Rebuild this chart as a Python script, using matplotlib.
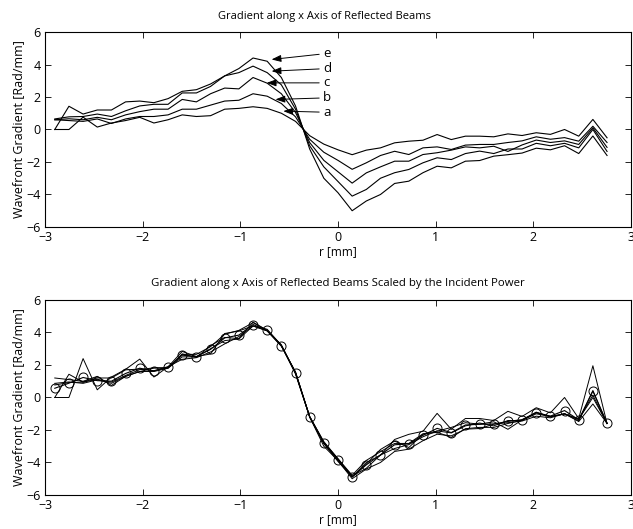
import matplotlib
matplotlib.use("Agg")
import matplotlib.pyplot as plt
import numpy as np

# radial positions [mm]
r = [-2.900, -2.755, -2.610, -2.465, -2.320, -2.175, -2.030, -1.885, -1.740, -1.595,
     -1.450, -1.305, -1.160, -1.015, -0.870, -0.725, -0.580, -0.435, -0.290, -0.145,
     0.000, 0.145, 0.290, 0.435, 0.580, 0.725, 0.870, 1.015, 1.160, 1.305,
     1.450, 1.595, 1.740, 1.885, 2.030, 2.175, 2.320, 2.465, 2.610, 2.755]

# wavefront gradient of the reflected beams [Rad/mm]
grad_a = [0.0, 0.0, 0.76, 0.15, 0.4, 0.55, 0.75, 0.4, 0.6, 0.9,
          0.8, 0.85, 1.25, 1.3, 1.4, 1.3, 1.0, 0.5, -0.38, -0.9,
          -1.25, -1.55, -1.27, -1.13, -0.82, -0.72, -0.66, -0.31, -0.62, -0.41,
          -0.41, -0.45, -0.27, -0.37, -0.2, -0.3, 0.0, -0.41, 0.62, -0.51]
grad_b = [0.6, 0.55, 0.5, 0.65, 0.37, 0.65, 0.8, 0.8, 0.9, 1.25,
          1.25, 1.5, 1.75, 1.8, 2.2, 2.05, 1.6, 0.78, -0.6, -1.4,
          -1.9, -2.45, -2.05, -1.6, -1.34, -1.54, -1.13, -1.07, -1.23, -0.96,
          -0.92, -0.92, -0.8, -0.7, -0.45, -0.6, -0.5, -0.72, 0.2, -0.8]
grad_c = [0.6, 0.66, 0.6, 0.75, 0.6, 0.9, 1.1, 1.25, 1.25, 1.85,
          1.7, 2.2, 2.55, 2.5, 3.2, 2.85, 2.2, 1.05, -0.8, -1.9,
          -2.6, -3.3, -2.67, -2.3, -1.95, -1.95, -1.54, -1.43, -1.27, -1.07,
          -1.13, -1.03, -1.35, -0.95, -0.65, -0.8, -0.7, -0.92, 0.1, -1.1]
grad_d = [0.65, 0.78, 0.8, 0.95, 0.8, 1.15, 1.45, 1.55, 1.55, 2.25,
          2.25, 2.65, 3.3, 3.5, 3.9, 3.5, 2.75, 1.25, -1.0, -2.3,
          -3.2, -4.1, -3.69, -3.0, -2.66, -2.46, -2.05, -1.74, -1.85, -1.48,
          -1.33, -1.48, -1.2, -1.2, -0.85, -1.0, -0.85, -1.13, 0.0, -1.35]
grad_e = [0.0, 1.43, 0.95, 1.2, 1.2, 1.7, 1.75, 1.65, 1.9, 2.35,
          2.45, 2.8, 3.3, 3.75, 4.4, 4.2, 3.2, 1.45, -1.2, -3.0,
          -3.89, -5.0, -4.4, -4.0, -3.32, -3.18, -2.66, -2.26, -2.36, -1.95,
          -1.91, -1.64, -1.55, -1.45, -1.15, -1.25, -1.0, -1.48, -0.4, -1.6]

beam_labels = ['a', 'b', 'c', 'd', 'e']
# factor that brings each beam to the power of beam e
power_scale = [3.15, 2.0, 1.45, 1.18, 1.0]

curves = [grad_a, grad_b, grad_c, grad_d, grad_e]

plt.rcParams['font.family'] = ['Open Sans', 'DejaVu Sans']
plt.rcParams['font.size'] = 8.5


def style_axes(ax):
    ax.set_xlim(-3, 3)
    ax.set_ylim(-6, 6)
    ax.set_xticks([-3, -2, -1, 0, 1, 2, 3])
    ax.set_yticks([-6, -4, -2, 0, 2, 4, 6])
    ax.tick_params(direction='in', top=True, right=True, length=4, width=0.6, pad=3,
                   labelsize=9)
    for s in ax.spines.values():
        s.set_linewidth(0.8)
    ax.set_xlabel('r [mm]', labelpad=1, fontsize=8.5)
    ax.set_ylabel('Wavefront Gradient [Rad/mm]', labelpad=1, fontsize=9)
    ax.set_xticklabels(['\u22123', '\u22122', '\u22121', '0', '1', '2', '3'])
    ax.set_yticklabels(['\u22126', '\u22124', '\u22122', '0', '2', '4', '6'])


fig = plt.figure(figsize=(6.33, 5.29), dpi=100)
ax1 = fig.add_axes([0.0711, 0.5709, 0.9257, 0.3686])
ax2 = fig.add_axes([0.0711, 0.0643, 0.9257, 0.3686])

for g in curves:
    ax1.plot(r, g, color='black', linewidth=0.8)
style_axes(ax1)
fig.text(0.512, 0.969, 'Gradient along x Axis of Reflected Beams', ha='center', va='center',
         fontsize=8)

# arrows naming each beam
tips = {'e': (-0.68, 4.31), 'd': (-0.68, 3.59), 'c': (-0.73, 2.87), 'b': (-0.64, 1.85), 'a': (-0.56, 1.13)}
tails = {'e': 4.68, 'd': 3.75, 'c': 2.87, 'b': 1.95, 'a': 1.06}
for lab in beam_labels:
    ax1.annotate(lab, xy=tips[lab], xytext=(-0.15, tails[lab]), ha='left', va='center',
                 fontsize=9.5,
                 arrowprops=dict(arrowstyle='-|>,head_length=0.6,head_width=0.22',
                                 color='black', lw=0.7, shrinkA=1, shrinkB=0))

scaled = [np.array(g) * s for g, s in zip(curves, power_scale)]
for sg in scaled:
    ax2.plot(r, sg, color='black', linewidth=0.7)
mean_scaled = np.mean(scaled, axis=0)
ax2.plot(r, mean_scaled, color='black', linewidth=0.8, marker='o', markersize=6.5,
         markerfacecolor='none', markeredgewidth=0.7)
style_axes(ax2)
fig.text(0.534, 0.465, 'Gradient along x Axis of Reflected Beams Scaled by the Incident Power',
         ha='center', va='center', fontsize=8.2)

fig.savefig('out.png', dpi=100)
